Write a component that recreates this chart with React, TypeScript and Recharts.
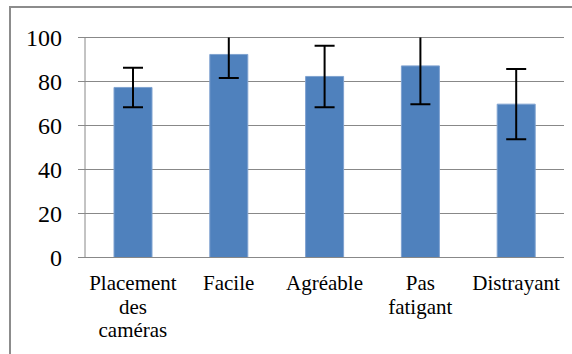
import React from "react";
import { BarChart, Bar, XAxis, YAxis, CartesianGrid, ErrorBar } from "recharts";

const categories = ["Placement des caméras", "Facile", "Agréable", "Pas fatigant", "Distrayant"];
const means = [77.3, 92.3, 82.3, 87.1, 69.7];
const errors = [9, 10.7, 14, 17.4, 16];
const yTicks = [0, 20, 40, 60, 80, 100];
const boundaryTicks = [0, 1, 2, 3, 4, 5];

const data = categories.map((c, i) => ({ name: c, value: means[i], err: errors[i], pos: i + 0.5 }));

const FONT = "Liberation Serif";
const GRID = "#888888";

const CategoryTick = (props: any) => {
  const { x, y, payload } = props;
  const words = String(payload.value).split(" ");
  return (
    <text x={x} y={y + 32.5} textAnchor="middle" fontFamily={FONT} fontSize={21} fill="#000">
      {words.map((w, i) => (
        <tspan key={i} x={x} dy={i === 0 ? 0 : 23.5}>
          {w}
        </tspan>
      ))}
    </text>
  );
};

export default function App() {
  return (
    <div
      style={{
        position: "absolute",
        left: 0,
        top: 0,
        width: 572,
        height: 354,
        overflow: "hidden",
        background: "#fff",
        fontFamily: '"Liberation Serif"',
      }}
    >
      <style>{`
        .recharts-wrapper text, .recharts-wrapper tspan { font-family: "Liberation Serif" !important; }
        .recharts-errorBars { clip-path: url(#clipPath-bars); }
      `}</style>
      <div
        style={{
          position: "absolute",
          left: 9,
          top: 6,
          width: 600,
          height: 400,
          border: "2px solid #8c8c8c",
          boxSizing: "border-box",
        }}
      />
      <div style={{ position: "absolute", left: 0, top: 0 }}>
        <BarChart width={572} height={354} data={data} margin={{ top: 37.5, right: 8, bottom: 0, left: 0 }}>
          <CartesianGrid vertical={false} stroke={GRID} strokeWidth={1} />
          <XAxis
            xAxisId="bounds"
            type="number"
            dataKey="pos"
            domain={[0, 5]}
            ticks={boundaryTicks}
            allowDataOverflow
            height={0}
            axisLine={false}
            tick={false}
            tickLine={{ stroke: GRID, strokeWidth: 1 }}
            tickSize={6}
          />
          <XAxis
            xAxisId="cat"
            dataKey="name"
            height={96.5}
            interval={0}
            axisLine={{ stroke: GRID, strokeWidth: 1 }}
            tickLine={false}
            tickSize={0}
            tickMargin={0}
            tick={<CategoryTick />}
          />
          <YAxis
            width={85}
            domain={[0, 100]}
            ticks={yTicks}
            allowDataOverflow
            axisLine={{ stroke: GRID, strokeWidth: 1 }}
            tickLine={{ stroke: GRID, strokeWidth: 1 }}
            tickSize={7}
            tickMargin={16}
            tick={{ fontFamily: FONT, fontSize: 24, fill: "#000" }}
          />
          <Bar
            id="bars"
            xAxisId="cat"
            dataKey="value"
            fill="#4F81BD"
            stroke="#7fa2d0"
            strokeWidth={1}
            barSize={38}
            isAnimationActive={false}
          >
            <ErrorBar dataKey="err" width={10} strokeWidth={2} stroke="#000" direction="y" />
          </Bar>
        </BarChart>
      </div>
    </div>
  );
}
